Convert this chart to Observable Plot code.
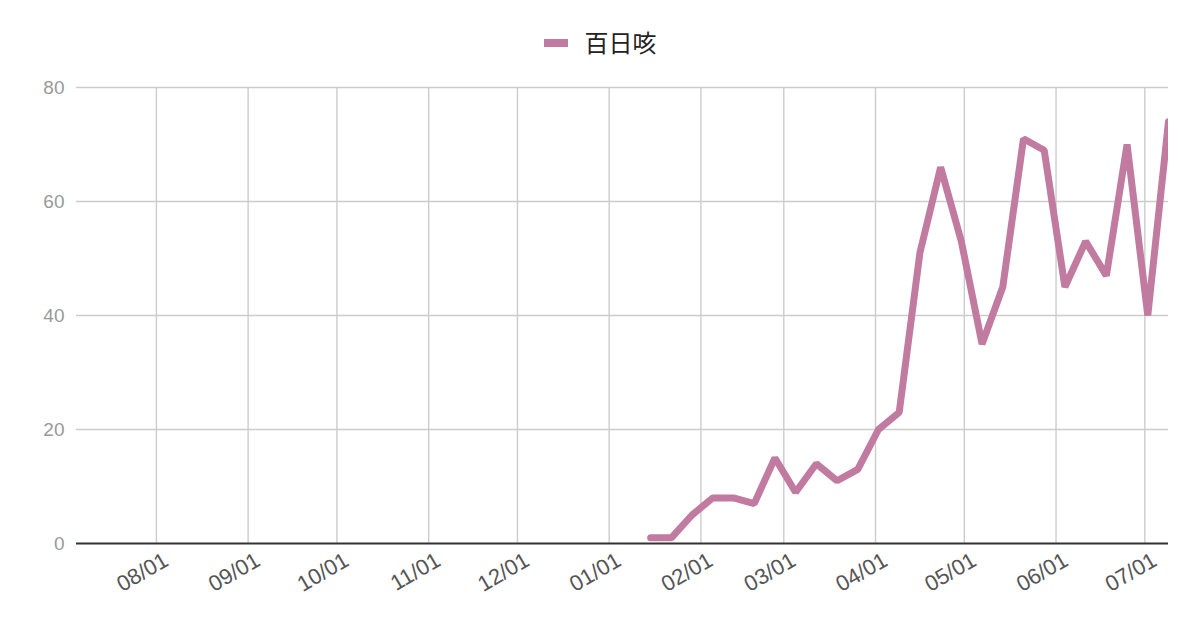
<!DOCTYPE html>
<html>
<head>
<meta charset="utf-8">
<script src="https://cdn.jsdelivr.net/npm/d3@7"></script>
<script src="https://cdn.jsdelivr.net/npm/@observablehq/plot@0.6"></script>
<style>
  html, body { margin: 0; padding: 0; background: #fff; }
  #wrap { width: 1200px; height: 626px; overflow: hidden; }
  #legend { height: 70px; display: flex; align-items: flex-start; justify-content: center; gap: 17px; box-sizing: border-box;
    font-family: "Noto Sans CJK JP", "Noto Sans CJK SC", sans-serif; font-size: 24px; line-height: 1; color: #222; }
  #legend .sw { width: 24px; height: 8px; background: #c27ba0; margin-top: 39px; }
  #legend .lbl { margin-top: 30px; }
  svg { display: block; }
</style>
</head>
<body>
<div id="wrap">
  <div id="legend"><span class="sw"></span><span class="lbl" id="legend-label"></span></div>
  <div id="chart"></div>
</div>
<script>
const seriesName = "百日咳";
const weekDates = [
  "2025-01-15","2025-01-22","2025-01-29","2025-02-05","2025-02-12","2025-02-19",
  "2025-02-26","2025-03-05","2025-03-12","2025-03-19","2025-03-26","2025-04-02",
  "2025-04-09","2025-04-16","2025-04-23","2025-04-30","2025-05-07","2025-05-14",
  "2025-05-21","2025-05-28","2025-06-04","2025-06-11","2025-06-18","2025-06-25",
  "2025-07-02","2025-07-09"
];
const cases = [1,1,5,8,8,7,15,9,14,11,13,20,23,51,66,53,35,45,71,69,45,53,47,70,40,74];
const monthTicks = [
  "2024-08-01","2024-09-01","2024-10-01","2024-11-01","2024-12-01","2025-01-01",
  "2025-02-01","2025-03-01","2025-04-01","2025-05-01","2025-06-01","2025-07-01"
];
const yTicks = [0, 20, 40, 60, 80];
const xDomain = ["2024-07-05", "2025-07-09"];

document.getElementById("legend-label").textContent = seriesName;

const data = weekDates.map((d, i) => ({date: new Date(d), value: cases[i]}));
const tickDates = monthTicks.map(d => new Date(d));

const chart = Plot.plot({
  width: 1200,
  height: 556,
  marginLeft: 76,
  marginRight: 32,
  marginTop: 17,
  marginBottom: 83,
  style: {fontFamily: "'Liberation Sans', Arial, sans-serif", fontSize: "19px", background: "#fff"},
  x: {type: "utc", domain: xDomain.map(d => new Date(d))},
  y: {domain: [0, 80]},
  marks: [
    Plot.gridY(yTicks.slice(1), {stroke: "#ccc", strokeOpacity: 1, strokeWidth: 1.4}),
    Plot.gridX(tickDates, {stroke: "#ccc", strokeOpacity: 1, strokeWidth: 1.4}),
    Plot.ruleY([0], {stroke: "#333", strokeWidth: 2}),
    Plot.axisY(yTicks, {tickSize: 0, tickPadding: 12, fill: "#999", fontSize: 19, label: null}),
    Plot.axisX(tickDates, {tickSize: 0, tickPadding: 15, tickRotate: -30, dx: 10, tickFormat: d3.utcFormat("%m/%d"), fill: "#555", fontSize: 22, label: null}),
    Plot.line(data, {x: "date", y: "value", stroke: "#c27ba0", strokeWidth: 7, strokeLinejoin: "miter", clip: true})
  ]
});
document.getElementById("chart").appendChild(chart);
</script>
</body>
</html>
